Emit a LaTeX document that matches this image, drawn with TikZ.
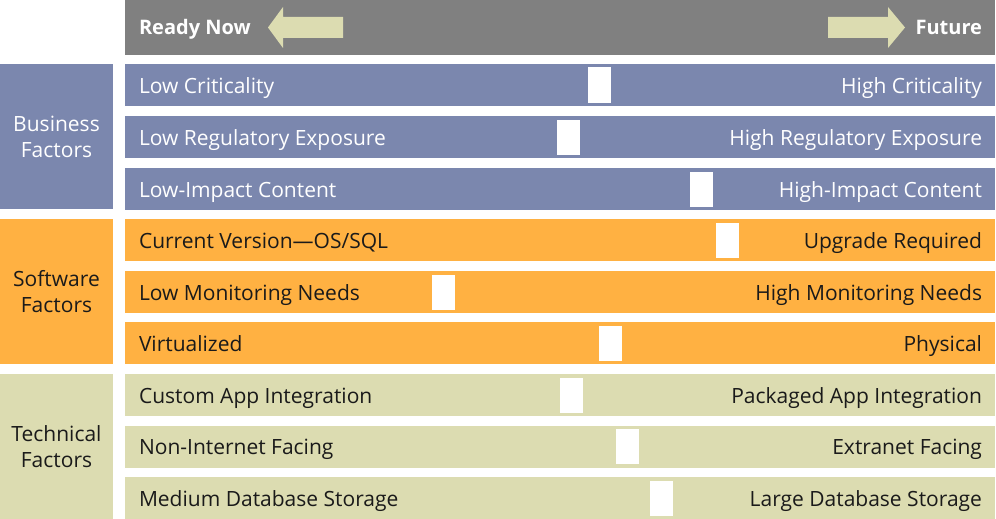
\documentclass[tikz,border=0pt]{standalone}
\usepackage{fontspec}
\setmainfont{Open Sans}
\usepackage{xcolor}
\usepackage{tikz}
\usetikzlibrary{positioning}

\definecolor{hdrgray}{HTML}{808080}
\definecolor{bizblue}{HTML}{7B87AE}
\definecolor{softorange}{HTML}{FFB142}
\definecolor{techolive}{HTML}{DCDCB1}
\definecolor{arrowtan}{HTML}{DCDCB1}
\definecolor{darktext}{HTML}{1A1A1A}

\begin{document}
\begin{tikzpicture}[
  x=1pt, y=-1pt,
  font=\fontsize{21}{26}\selectfont,
  bar/.style={rectangle, minimum width=870pt, minimum height=42pt, inner sep=0pt},
  group/.style={rectangle, minimum width=113pt, minimum height=145pt,
                inner sep=0pt, align=center},
  biz/.style={fill=bizblue, text=white},
  soft/.style={fill=softorange, text=darktext},
  tech/.style={fill=techolive, text=darktext},
  marker/.style={rectangle, fill=white, minimum width=23pt, minimum height=35pt,
                 inner sep=0pt},
  ltxt/.style={inner sep=0pt, text height=20pt, text depth=4pt},
  rtxt/.style={inner sep=0pt, text height=20pt, text depth=4pt},
  hdrtxt/.style={inner sep=0pt, text height=19pt, text depth=4pt, text=white,
                 font=\fontsize{20}{24}\selectfont\bfseries},
  hdrarrow/.style={fill=arrowtan},
  ]
  \useasboundingbox (0,0) rectangle (996,519);

  %% Header bar with the two direction arrows
  \node[rectangle, fill=hdrgray, minimum width=870pt, minimum height=55pt,
        inner sep=0pt] (hdr) at (560,27.5) {};
  \node[hdrtxt, right=14pt of hdr.west] (ready)  {Ready Now};
  \node[hdrtxt, left=13pt of hdr.east]  (future) {Future};
  \fill[hdrarrow] (268,27.5) -- (283,7) -- (283,17) -- (343,17) -- (343,38)
        -- (283,38) -- (283,48) -- cycle;
  \fill[hdrarrow] (905,27.5) -- (888,7) -- (888,17) -- (828,17) -- (828,38)
        -- (888,38) -- (888,48) -- cycle;

  %% Group labels, left column
  \node[group, biz]  (business)  at (56.5,136.5) {Business\\Factors};
  \node[group, soft] (software)  at (56.5,291.5) {Software\\Factors};
  \node[group, tech] (technical) at (56.5,446.5) {Technical\\Factors};

  %% Business rows
  \node[bar, biz] (r1) at (560,85)  {};
  \node[bar, biz] (r2) at (560,137) {};
  \node[bar, biz] (r3) at (560,189) {};
  \node[ltxt, right=14pt of r1.west, text=white] (l1) {Low Criticality};
  \node[rtxt, left=13pt of r1.east, text=white]  (h1) {High Criticality};
  \node[ltxt, right=14pt of r2.west, text=white] (l2) {Low Regulatory Exposure};
  \node[rtxt, left=13pt of r2.east, text=white]  (h2) {High Regulatory Exposure};
  \node[ltxt, right=14pt of r3.west, text=white] (l3) {Low-Impact Content};
  \node[rtxt, left=13pt of r3.east, text=white]  (h3) {High-Impact Content};

  %% Software rows
  \node[bar, soft] (r4) at (560,240) {};
  \node[bar, soft] (r5) at (560,292) {};
  \node[bar, soft] (r6) at (560,343) {};
  \node[ltxt, right=14pt of r4.west, text=darktext] (l4) {Current Version—OS/SQL};
  \node[rtxt, left=13pt of r4.east, text=darktext]  (h4) {Upgrade Required};
  \node[ltxt, right=14pt of r5.west, text=darktext] (l5) {Low Monitoring Needs};
  \node[rtxt, left=13pt of r5.east, text=darktext]  (h5) {High Monitoring Needs};
  \node[ltxt, right=14pt of r6.west, text=darktext] (l6) {Virtualized};
  \node[rtxt, left=13pt of r6.east, text=darktext]  (h6) {Physical};

  %% Technical rows
  \node[bar, tech] (r7) at (560,395) {};
  \node[bar, tech] (r8) at (560,446.5) {};
  \node[bar, tech] (r9) at (560,498) {};
  \node[ltxt, right=14pt of r7.west, text=darktext] (l7) {Custom App Integration};
  \node[rtxt, left=13pt of r7.east, text=darktext]  (h7) {Packaged App Integration};
  \node[ltxt, right=14pt of r8.west, text=darktext] (l8) {Non-Internet Facing};
  \node[rtxt, left=13pt of r8.east, text=darktext]  (h8) {Extranet Facing};
  \node[ltxt, right=14pt of r9.west, text=darktext] (l9) {Medium Database Storage};
  \node[rtxt, left=13pt of r9.east, text=darktext]  (h9) {Large Database Storage};

  %% Position markers (white blocks)
  \node[marker] (m1) at (599.5,85)    {};
  \node[marker] (m2) at (568.5,137)   {};
  \node[marker] (m3) at (701.5,189)   {};
  \node[marker] (m4) at (727.5,240)   {};
  \node[marker] (m5) at (443.5,292)   {};
  \node[marker] (m6) at (610.5,343)   {};
  \node[marker] (m7) at (571.5,395)   {};
  \node[marker] (m8) at (627.5,446.5) {};
  \node[marker] (m9) at (661.5,498)   {};
\end{tikzpicture}
\end{document}
